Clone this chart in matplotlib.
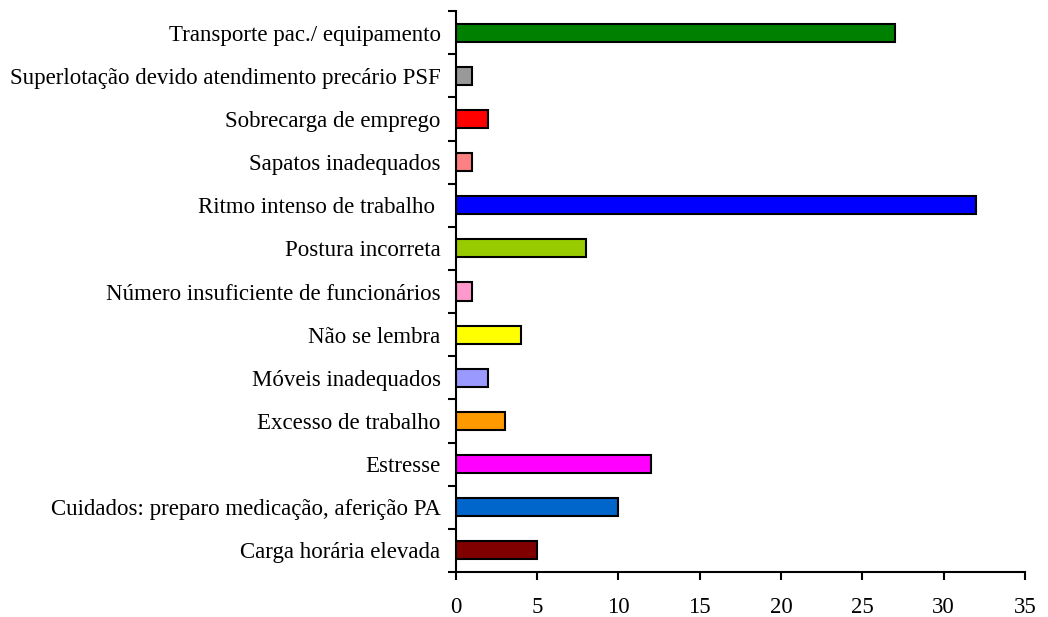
import matplotlib.pyplot as plt
import numpy as np

plt.rcParams['font.family'] = ['Liberation Serif', 'DejaVu Serif']

# categories from bottom to top
categorias = ["Carga horária elevada",
              "Cuidados: preparo medicação, aferição PA",
              "Estresse",
              "Excesso de trabalho",
              "Móveis inadequados",
              "Não se lembra",
              "Número insuficiente de funcionários",
              "Postura incorreta",
              "Ritmo intenso de trabalho ",
              "Sapatos inadequados",
              "Sobrecarga de emprego",
              "Superlotação devido atendimento precário PSF",
              "Transporte pac./ equipamento"]
valores = [5, 10, 12, 3, 2, 4, 1, 8, 32, 1, 2, 1, 27]
cores = ["#800000", "#0066CC", "#FF00FF", "#FF9900", "#9999FF", "#FFFF00",
         "#FF99CC", "#99CC00", "#0000FF", "#FF8080", "#FF0000", "#999999",
         "#008000"]

fig = plt.figure(figsize=(10.48, 6.17), dpi=100)
ax = fig.add_axes([0.435, 0.073, 0.543, 0.909])

y = np.arange(len(categorias))
ax.barh(y, valores, height=0.42, color=cores, edgecolor='black', linewidth=1.5)

ax.set_xlim(0, 35)
ax.set_ylim(-0.5, len(categorias) - 0.5)
ax.set_xticks(np.arange(0, 36, 5))
ax.set_yticks(y)
ax.set_yticklabels(categorias)
ax.set_yticks(np.arange(-0.5, len(categorias), 1), minor=True)

ax.tick_params(axis='y', which='major', length=0, pad=11, labelsize=16.5)
ax.tick_params(axis='y', which='minor', length=6, width=1.5, direction='out')
ax.tick_params(axis='x', length=6, width=1.5, direction='out', labelsize=16.5, pad=12)

for s in ['top', 'right']:
    ax.spines[s].set_visible(False)
for s in ['left', 'bottom']:
    ax.spines[s].set_linewidth(1.5)

plt.savefig('out.png', dpi=100)
